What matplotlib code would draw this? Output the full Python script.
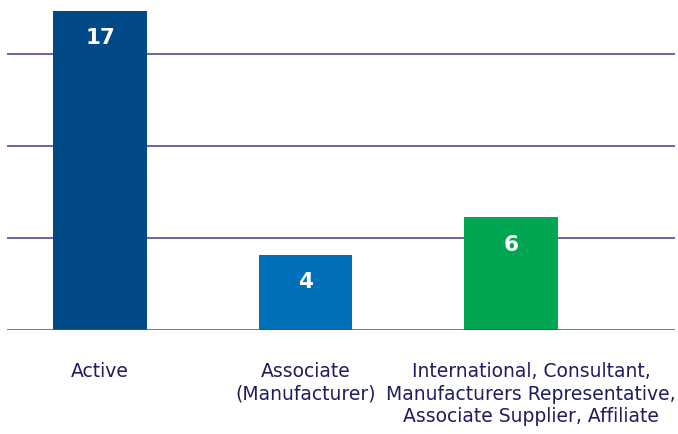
import matplotlib.pyplot as plt
from matplotlib.transforms import ScaledTranslation
import numpy as np

categories = ["Active", "Associate\n(Manufacturer)",
              "International, Consultant,\nManufacturers Representative,\nAssociate Supplier, Affiliate"]
values = [17, 4, 6]
colors = ["#014a87", "#0070bb", "#00a651"]
grid_step = 4.9

plt.rcParams['font.family'] = ['DejaVu Sans']

fig = plt.figure(figsize=(6.78, 4.34), dpi=100)
ax = fig.add_axes([7/678, 104/434, 668/678, 330/434])

x = np.arange(len(values))
ax.bar(x, values, width=0.457, color=colors, zorder=2)

# gridlines behind bars, baseline on top
for g in np.arange(1, 4) * grid_step:
    ax.axhline(g, color="#3d3b8e", lw=1.1, zorder=1)
ax.axhline(0, color="#4a4898", lw=1.8, zorder=3)

for xi, v in zip(x, values):
    ax.text(xi, v - 1.45, str(v), ha="center", va="center", color="white",
            fontsize=15.5, fontweight="bold", zorder=4)

ax.set_xlim(-0.4526, 2.798)
ax.set_ylim(0, 17.59)
ax.set_xticks(x)
ax.set_xticklabels(categories, fontsize=13.5, color="#1f1d5e", linespacing=1.24)
ax.tick_params(axis="x", length=0, pad=23)
ax.set_yticks([])
for s in ax.spines.values():
    s.set_visible(False)

lbl = ax.get_xticklabels()[2]
lbl.set_transform(lbl.get_transform() + ScaledTranslation(0.20, 0, fig.dpi_scale_trans))

fig.savefig("out.png", dpi=100)
